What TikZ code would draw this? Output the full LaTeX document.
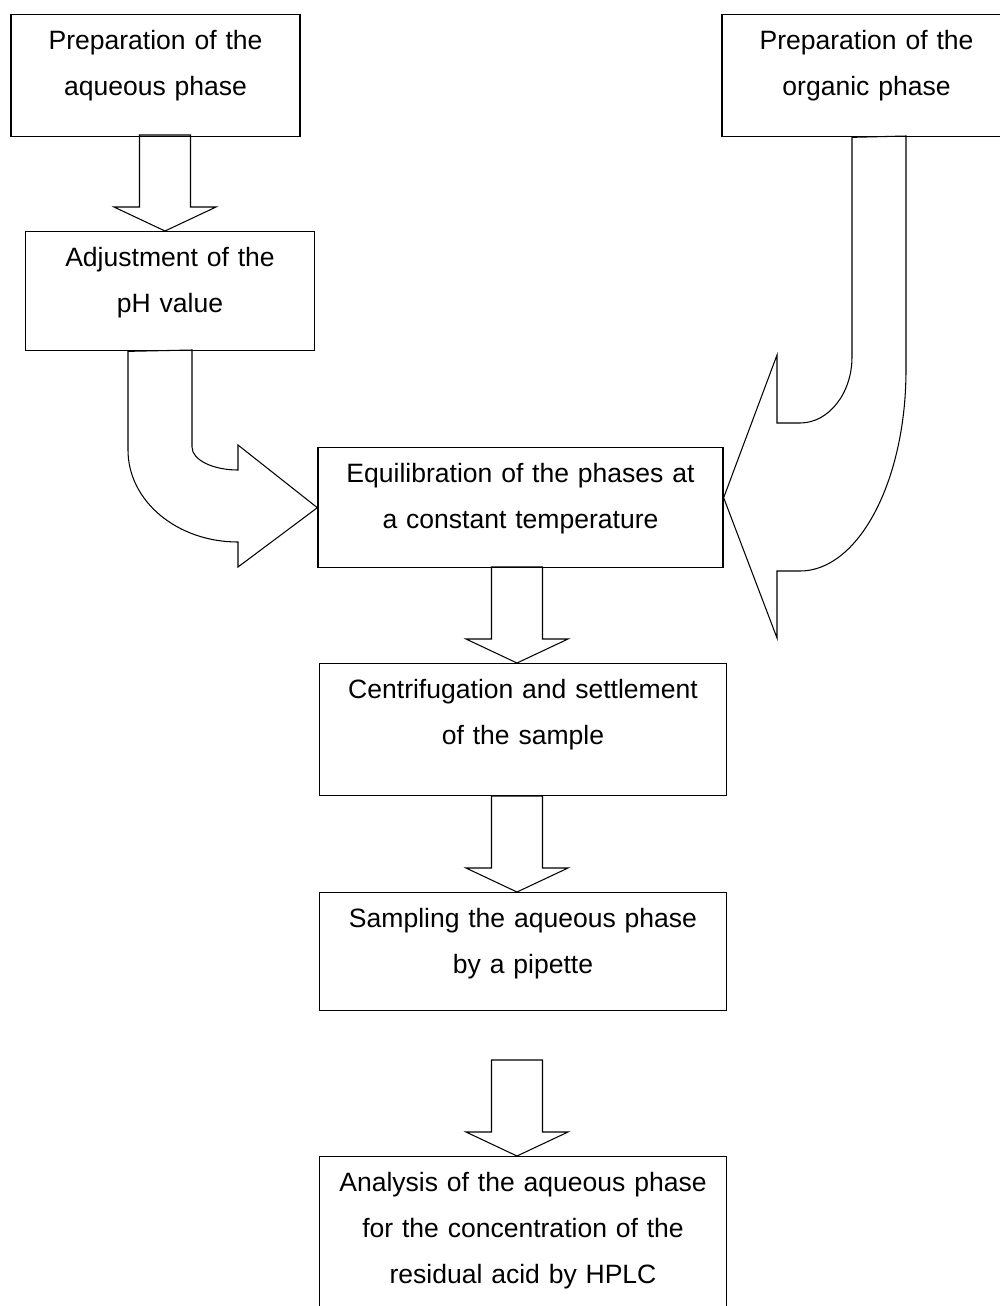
\documentclass[tikz,border=0pt]{standalone}
\usepackage{fontspec}
\setmainfont{Liberation Sans}
\usetikzlibrary{calc, backgrounds}

\tikzset{
    stepbox/.style={
        draw,
        line width=0.8pt,
        anchor=north,
        align=center,
        inner sep=0pt,
        text height=20pt,
        font=\fontsize{15.1pt}{26.2pt}\selectfont
    },
    narrowbox/.style={stepbox, text width=5.78cm},
    widebox/.style={stepbox, text width=8.14cm},
    blockarrow/.style={
        draw,
        fill=white,
        line width=0.6pt,
        line join=miter
    }
}
\newcommand{\downblock}[1]{%
    \draw[blockarrow] (#1) -- ++(-51,-24) -- ++(25.5,0) -- ++(0,-72)
        -- ++(51,0) -- ++(0,72) -- ++(25.5,0) -- cycle;}

\begin{document}
\begin{tikzpicture}[x=0.02cm, y=-0.02cm]
    \useasboundingbox (0,0) rectangle (1000,1306);
    \clip (0,0) rectangle (1000,1306);

    % boxes
    \node[narrowbox, text depth=49.4pt] (aqp) at (155.5,14) {Preparation of the\\aqueous phase};
    \node[narrowbox, text depth=49.4pt] (orgp) at (866.5,14) {Preparation of the\\organic phase};
    \node[narrowbox, text depth=47.7pt] (ph) at (170,231) {Adjustment of the\\pH value};
    \node[widebox, text width=8.1cm, text depth=48.3pt] (equil) at (520.5,447) {Equilibration of the phases at\\a constant temperature};
    \node[widebox, text depth=55.1pt] (centr) at (523,663) {Centrifugation and settlement\\of the sample};
    \node[widebox, text depth=47.2pt] (sampl) at (523,892) {Sampling the aqueous phase\\by a pipette};
    \node[widebox, text depth=82.4pt] (anal) at (523,1156) {Analysis of the aqueous phase\\for the concentration of the\\residual acid by HPLC};

    \begin{scope}[on background layer]
        % straight arrows
        \downblock{$(ph.north)+(-5,0)$}
        \downblock{$(centr.north)+(-6,0)$}
        \downblock{$(sampl.north)+(-6,0)$}
        \downblock{$(anal.north)+(-6,0)$}

        % curved arrows
        \draw[blockarrow] ($(ph.south)+(-42,0)$) -- (128,450)
            .. controls (128,501) and (177,542) .. (238,542)
            -- (238,567) -- (equil.west) -- (238,445) -- (238,470)
            .. controls (213,470) and (192,460) .. (192,447)
            -- (192,350) -- cycle;
        \draw[blockarrow] ($(orgp.south)+(-14.5,0)$) -- (852,357)
            .. controls (852,393) and (829,423) .. (800,423)
            -- (777,423) -- (777,355) -- ($(equil.east)+(0,-10)$)
            -- (777,638) -- (777,571) -- (800,571)
            .. controls (858.5,571) and (906,481) .. (906,370)
            -- (906,136) -- cycle;
    \end{scope}
\end{tikzpicture}
\end{document}
